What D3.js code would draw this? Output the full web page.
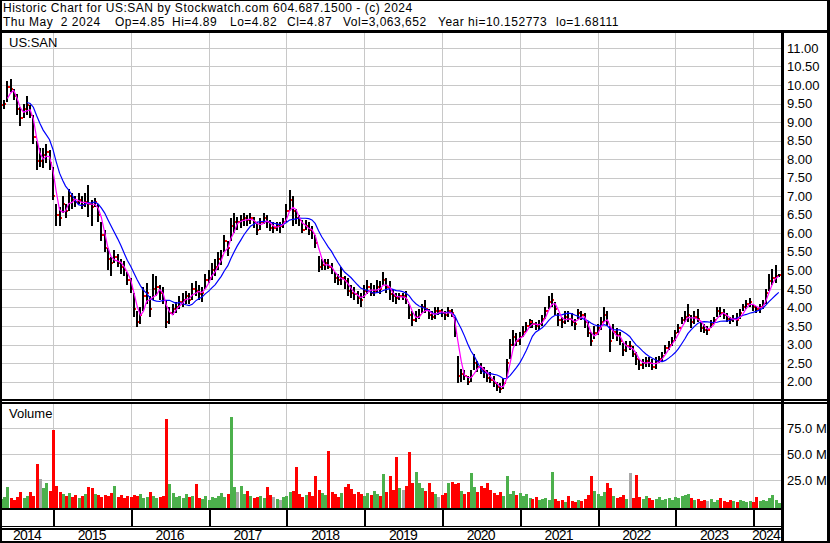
<!DOCTYPE html>
<html>
<head>
<meta charset="utf-8">
<script src="https://cdn.jsdelivr.net/npm/d3@7"></script>
<style>
  body { margin: 0; background: #fff; }
  svg { display: block; font-family: Arial, "Liberation Sans", sans-serif; }
</style>
</head>
<body>
<svg></svg>
<script>
const width = 830;
const height = 543;

// chart window: 10 years ending Thu May 2 2024
const startDate = new Date(2014, 4, 2);
const endDate = new Date(2024, 4, 2);

const yearLabels = ['2014', '2015', '2016', '2017', '2018', '2019', '2020', '2021', '2022', '2023', '2024'];
const priceTicks = d3.range(2, 11.001, 0.5);
const volumeTicks = [25e6, 50e6, 75e6];

// half-month bars (first point May 2014, last May 2024)
const lo = [
  9.3,9.35,9.55,9.8,9.6,9.2,8.9,9.1,9.2,9.1,8.4,7.7,7.8,7.75,7.9,7.7,6.9,6.2,6.2,6.55,
  6.4,6.6,6.65,6.7,6.8,6.65,6.7,6.45,6.2,6.7,6.3,5.8,5.5,5.0,4.85,5.2,5.1,4.9,4.85,4.6,
  4.4,3.75,3.48,3.55,3.9,4.1,3.75,4.2,4.3,4.2,4.1,3.45,3.55,3.8,3.85,3.95,4.0,4.1,4.1,4.2,
  4.3,4.2,4.15,4.5,4.65,4.75,4.85,5.0,5.15,5.5,5.4,5.8,6.0,6.1,6.15,6.2,6.2,6.25,6.15,5.95,
  6.1,6.25,6.15,6.05,6.0,6.05,6.0,6.15,6.3,6.6,6.2,6.25,6.2,6.0,6.1,5.95,5.85,5.6,4.95,5.0,
  5.0,5.05,4.9,4.65,4.6,4.6,4.5,4.3,4.25,4.2,4.1,4.0,4.25,4.35,4.3,4.3,4.4,4.35,4.6,4.4,
  4.2,4.15,4.1,4.2,4.2,4.1,3.7,3.5,3.6,3.7,3.85,3.85,3.7,3.65,3.7,3.8,3.75,3.65,3.75,3.75,
  3.2,1.95,2.0,2.05,1.9,2.0,2.3,2.25,2.2,2.1,2.0,1.95,1.85,1.75,1.68,1.8,2.1,2.6,2.95,2.95,
  3.0,3.2,3.35,3.45,3.45,3.4,3.4,3.5,3.7,3.95,4.0,3.8,3.5,3.45,3.55,3.6,3.5,3.4,3.7,3.65,
  3.45,3.2,2.95,3.15,3.25,3.4,3.6,3.5,2.8,3.15,3.1,3.0,2.7,2.8,2.85,2.65,2.45,2.3,2.35,2.4,
  2.4,2.3,2.35,2.5,2.55,2.75,2.85,2.95,3.1,3.3,3.55,3.6,3.6,3.45,3.55,3.6,3.35,3.3,3.25,3.45,
  3.55,3.75,3.75,3.7,3.6,3.55,3.6,3.5,3.7,3.9,3.95,4.0,3.9,3.85,3.85,3.95,4.1,4.45,4.6,4.65,
  4.82
];
const hi = [
  9.55,9.6,10.1,10.15,9.9,9.75,9.4,9.5,9.7,9.45,9.2,8.5,8.3,8.3,8.4,8.25,7.8,6.8,6.7,7.0,
  6.8,7.2,7.1,7.0,7.1,7.0,7.1,7.3,6.9,6.95,6.8,6.3,6.1,5.6,5.35,5.55,5.45,5.3,5.25,4.95,
  4.8,4.4,3.9,4.0,4.55,4.65,4.3,4.9,4.85,4.6,4.55,4.2,4.0,4.1,4.15,4.3,4.4,4.45,4.4,4.65,
  4.7,4.6,4.55,4.9,5.0,5.2,5.3,5.5,5.55,5.95,5.8,6.4,6.55,6.45,6.5,6.55,6.5,6.55,6.45,6.3,
  6.4,6.55,6.5,6.35,6.3,6.3,6.3,6.4,6.8,7.17,7.0,6.65,6.5,6.35,6.35,6.3,6.2,5.95,5.4,5.3,
  5.3,5.3,5.2,4.95,4.9,5.1,4.85,4.8,4.6,4.55,4.45,4.4,4.6,4.75,4.65,4.6,4.75,4.7,4.95,4.8,
  4.7,4.5,4.4,4.4,4.4,4.45,4.1,3.9,3.9,3.95,4.1,4.2,3.95,3.9,4.0,4.0,3.95,3.9,4.0,3.95,
  3.75,2.7,2.35,2.3,2.15,2.3,2.75,2.55,2.5,2.4,2.3,2.25,2.15,2.0,1.95,2.1,2.6,3.15,3.4,3.3,
  3.35,3.5,3.6,3.7,3.65,3.6,3.65,3.8,4.0,4.3,4.38,4.15,3.85,3.75,3.9,3.9,3.85,3.7,3.95,3.9,
  3.85,3.6,3.35,3.5,3.55,3.75,4.0,3.9,3.5,3.55,3.45,3.35,3.05,3.1,3.1,2.95,2.8,2.6,2.6,2.65,
  2.65,2.6,2.65,2.7,2.8,3.0,3.1,3.2,3.4,3.55,3.75,3.9,4.1,3.8,3.9,3.95,3.6,3.55,3.5,3.65,
  3.75,4.0,4.0,3.95,3.85,3.75,3.8,3.85,3.95,4.1,4.2,4.25,4.1,4.05,4.1,4.2,4.5,4.9,5.05,5.15,
  4.89
];
const cl = [
  9.45,9.5,9.95,9.9,9.7,9.35,9.1,9.35,9.45,9.2,8.6,7.95,7.95,8.1,8.2,7.9,7.0,6.5,6.4,6.8,
  6.6,7.0,6.9,6.85,6.9,6.75,6.85,6.8,6.7,6.85,6.5,5.95,5.6,5.3,5.2,5.35,5.2,5.1,5.0,4.75,
  4.5,3.95,3.6,3.8,4.3,4.4,3.95,4.5,4.55,4.4,4.2,3.6,3.85,3.95,4.0,4.15,4.2,4.3,4.2,4.5,
  4.45,4.35,4.4,4.75,4.8,5.0,5.1,5.3,5.4,5.8,5.6,6.2,6.3,6.3,6.35,6.4,6.35,6.4,6.3,6.1,
  6.3,6.4,6.3,6.15,6.15,6.2,6.2,6.3,6.6,6.9,6.6,6.4,6.35,6.1,6.2,6.1,6.0,5.75,5.1,5.15,
  5.2,5.1,5.0,4.8,4.75,4.8,4.7,4.45,4.4,4.35,4.25,4.2,4.45,4.55,4.4,4.45,4.55,4.5,4.75,4.55,
  4.35,4.3,4.25,4.3,4.3,4.2,3.8,3.65,3.75,3.8,4.0,3.95,3.8,3.75,3.9,3.9,3.85,3.8,3.9,3.85,
  3.3,2.15,2.2,2.15,2.0,2.15,2.5,2.4,2.35,2.25,2.1,2.05,1.95,1.85,1.8,1.95,2.5,3.0,3.2,3.1,
  3.2,3.35,3.5,3.6,3.55,3.5,3.55,3.7,3.9,4.15,4.2,3.95,3.65,3.6,3.75,3.7,3.6,3.55,3.85,3.8,
  3.6,3.3,3.1,3.3,3.45,3.6,3.8,3.6,3.1,3.35,3.25,3.1,2.85,2.95,2.95,2.75,2.6,2.45,2.5,2.55,
  2.5,2.4,2.55,2.6,2.7,2.9,3.0,3.1,3.3,3.45,3.65,3.75,3.8,3.6,3.75,3.7,3.45,3.4,3.4,3.55,
  3.65,3.9,3.85,3.8,3.7,3.65,3.7,3.65,3.85,4.0,4.1,4.15,4.0,3.95,4.0,4.1,4.4,4.7,4.8,4.85,
  4.87
];
// volume in millions of shares
const vol = [
  7,9,19,8,6,9,14,8,10,14,10,41,26,18,22,15,73,20,14,12,
  10,13,9,11,8,10,12,19,18,12,11,9,11,10,13,20,9,11,8,10,
  9,11,10,12,8,9,14,10,8,9,10,84,21,13,9,10,8,12,9,10,
  21,8,7,10,6,9,8,10,13,9,12,86,19,14,20,12,15,10,8,9,
  10,8,19,11,9,7,6,9,10,14,15,38,12,9,11,14,10,29,16,13,
  11,53,14,12,9,13,19,21,17,12,14,12,10,13,11,15,12,10,31,14,
  29,16,47,18,16,20,52,22,33,22,18,15,22,14,12,9,11,13,22,23,
  21,22,15,12,14,32,19,14,20,18,22,16,13,11,14,10,29,12,15,11,
  13,10,12,8,7,9,6,7,8,6,33,7,5,6,4,10,5,4,6,5,
  7,11,29,15,12,10,14,22,18,10,8,9,11,7,32,8,30,9,7,10,
  8,6,7,9,6,7,8,6,9,8,10,11,12,8,6,7,5,6,5,7,
  4,6,8,5,4,6,5,4,6,5,4,5,4,9,5,6,5,8,11,6,
  3
];

const dates = cl.map((d, i) => new Date(2014, 4 + Math.floor(i / 2), i % 2 ? 16 : 1));

const plotRight = 781;
const priceTop = 33, priceBottom = 399;
const volTop = 403, volBottom = 508;

const svg = d3.select('svg').attr('width', width).attr('height', height);

const x = d3.scaleTime().domain([startDate, endDate]).range([1, 779]);
const y = d3.scaleLinear().domain([2, 11]).range([381.6, 47.9]);
const yv = d3.scaleLinear().domain([0, 100e6]).range([506.3, 402.3]);

const yearTicks = x.ticks(d3.timeYear.every(1));

// moving averages on the closes
function sma(arr, n) {
    return arr.map((d, i) => i < n - 1 ? null : d3.mean(arr.slice(i - n + 1, i + 1)));
}
const maFast = sma(cl, 3);
const maSlow = sma(cl, 9);

// grid
const grid = svg.append('g').attr('stroke', '#c8c8c8').attr('stroke-width', 1).attr('shape-rendering', 'crispEdges');
grid.selectAll('line.h').data(priceTicks).join('line').attr('class', 'h')
    .attr('x1', 2).attr('x2', plotRight).attr('y1', d => Math.round(y(d)) + 0.5).attr('y2', d => Math.round(y(d)) + 0.5);
grid.selectAll('line.v').data(yearTicks).join('line').attr('class', 'v')
    .attr('x1', d => Math.round(x(d)) + 0.5).attr('x2', d => Math.round(x(d)) + 0.5)
    .attr('y1', priceTop).attr('y2', priceBottom);
const grid2 = svg.append('g').attr('stroke', '#c8c8c8').attr('stroke-width', 1).attr('shape-rendering', 'crispEdges');
grid2.selectAll('line.h').data(volumeTicks).join('line').attr('class', 'h')
    .attr('x1', 2).attr('x2', plotRight).attr('y1', d => Math.round(yv(d)) + 0.5).attr('y2', d => Math.round(yv(d)) + 0.5);
grid2.selectAll('line.v').data(yearTicks).join('line').attr('class', 'v')
    .attr('x1', d => Math.round(x(d)) + 0.5).attr('x2', d => Math.round(x(d)) + 0.5)
    .attr('y1', volTop).attr('y2', volBottom);

// volume bars
svg.append('g').attr('shape-rendering', 'crispEdges')
    .selectAll('rect').data(vol).join('rect')
    .attr('x', (d, i) => Math.round(x(dates[i])) - 1)
    .attr('width', 3)
    .attr('y', d => yv(d * 1e6))
    .attr('height', d => volBottom - yv(d * 1e6))
    .attr('fill', (d, i) => {
        if (i === 0) return '#4cb04c';
        return cl[i] > cl[i - 1] ? '#4cb04c' : cl[i] < cl[i - 1] ? '#ff0000' : '#a8a8a8';
    });

// price bars
const bars = svg.append('g').attr('shape-rendering', 'crispEdges');
bars.selectAll('rect.bar').data(cl).join('rect').attr('class', 'bar')
    .attr('x', (d, i) => Math.round(x(dates[i])) - 1)
    .attr('width', 2)
    .attr('y', (d, i) => y(hi[i]))
    .attr('height', (d, i) => Math.max(2, y(lo[i]) - y(hi[i])))
    .attr('fill', '#000');
bars.selectAll('rect.open').data(cl).join('rect').attr('class', 'open')
    .attr('x', (d, i) => Math.round(x(dates[i])) - 2)
    .attr('width', 1).attr('height', 2)
    .attr('y', (d, i) => y(i ? cl[i - 1] : d) - 1)
    .attr('fill', '#ff0000');
bars.selectAll('rect.close').data(cl).join('rect').attr('class', 'close')
    .attr('x', (d, i) => Math.round(x(dates[i])) + 1)
    .attr('width', 1).attr('height', 2)
    .attr('y', d => y(d) - 1)
    .attr('fill', '#ff0000');

// moving average lines
const maLine = d3.line()
    .defined(d => d[1] != null)
    .x(d => x(d[0]))
    .y(d => y(d[1]));
svg.append('path').datum(dates.map((d, i) => [d, maSlow[i]]))
    .attr('d', maLine).attr('fill', 'none').attr('stroke', '#0000ff').attr('stroke-width', 1.2);
svg.append('path').datum(dates.map((d, i) => [d, maFast[i]]))
    .attr('d', maLine).attr('fill', 'none').attr('stroke', '#ff00ff').attr('stroke-width', 1.2);

// frame
const frame = svg.append('g').attr('fill', '#000').attr('shape-rendering', 'crispEdges');
frame.append('rect').attr('x', 0).attr('y', 0).attr('width', width).attr('height', 1);
frame.append('rect').attr('x', 0).attr('y', 0).attr('width', 2).attr('height', height);
frame.append('rect').attr('x', 827).attr('y', 0).attr('width', 3).attr('height', height);
frame.append('rect').attr('x', 0).attr('y', 541).attr('width', width).attr('height', 2);
frame.append('rect').attr('x', 0).attr('y', 30).attr('width', width).attr('height', 3);
frame.append('rect').attr('x', plotRight).attr('y', 33).attr('width', 3).attr('height', height - 33);
frame.append('rect').attr('x', 0).attr('y', 399).attr('width', width).attr('height', 1.5);
frame.append('rect').attr('x', 0).attr('y', 402).attr('width', width).attr('height', 1.5);
frame.append('rect').attr('x', 0).attr('y', volBottom).attr('width', plotRight).attr('height', 2);
frame.append('rect').attr('x', 0).attr('y', 525.5).attr('width', plotRight).attr('height', 1.5);
frame.append('rect').attr('x', 0).attr('y', 528).attr('width', plotRight).attr('height', 1.5);
frame.selectAll('rect.yt').data(yearTicks).join('rect').attr('class', 'yt')
    .attr('x', d => Math.round(x(d))).attr('y', volBottom).attr('width', 2).attr('height', 18);

// year labels centred in each year's span
const yearCenters = yearLabels.map(lbl => {
    const yr = +lbl;
    const a = Math.max(x(startDate), x(new Date(yr, 0, 1)));
    const b = Math.min(x(endDate), x(new Date(yr + 1, 0, 1)));
    return (a + b) / 2;
});
svg.append('g').selectAll('text').data(yearLabels).join('text')
    .attr('x', (d, i) => yearCenters[i]).attr('y', 540)
    .attr('text-anchor', 'middle').attr('font-size', 14).attr('letter-spacing', -0.75)
    .attr('fill', '#000').text(d => d);

// right axes
const priceAxis = d3.axisRight(y).tickValues(priceTicks).tickSize(0).tickPadding(0)
    .tickFormat(d3.format('.2f'));
svg.append('g').attr('transform', 'translate(787,0)').call(priceAxis)
    .call(g => g.select('.domain').remove())
    .attr('font-size', 13).attr('font-family', 'Arial, "Liberation Sans", sans-serif')
    .selectAll('text').attr('fill', '#000');

const volAxis = d3.axisRight(yv).tickValues(volumeTicks).tickSize(0).tickPadding(0)
    .tickFormat(d => (d / 1e6).toFixed(1) + ' M');
svg.append('g').attr('transform', 'translate(787,0)').call(volAxis)
    .call(g => g.select('.domain').remove())
    .attr('font-size', 13).attr('font-family', 'Arial, "Liberation Sans", sans-serif')
    .selectAll('text').attr('fill', '#000');

// panel captions
svg.append('text').attr('x', 9).attr('y', 47).attr('font-size', 13).text('US:SAN');
svg.append('text').attr('x', 9).attr('y', 418).attr('font-size', 13).text('Volume');

// header
svg.append('text').attr('x', 3).attr('y', 12).attr('font-size', 12).attr('letter-spacing', 0.5)
    .text('Historic Chart for US:SAN by Stockwatch.com 604.687.1500 - (c) 2024');
const headerItems = ['Thu May  2 2024', 'Op=4.85', 'Hi=4.89', 'Lo=4.82', 'Cl=4.87', 'Vol=3,063,652', 'Year hi=10.152773', 'lo=1.68111'];
const headerX = [3, 115, 172, 230, 287, 343, 438, 556];
svg.append('g').selectAll('text').data(headerItems).join('text')
    .attr('x', (d, i) => headerX[i]).attr('y', 26).attr('font-size', 12).attr('letter-spacing', 0.5)
    .style('white-space', 'pre').text(d => d);
</script>
</body>
</html>
